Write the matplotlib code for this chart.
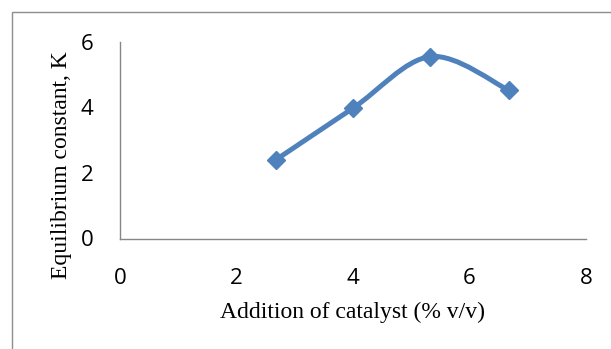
import numpy as np
import matplotlib
matplotlib.use("Agg")
import matplotlib.pyplot as plt
from matplotlib.path import Path
from matplotlib.patches import PathPatch, Rectangle

# catalyst addition (% v/v) vs equilibrium constant K
catalyst = [2.67, 4.0, 5.33, 6.67]
k_values = [2.39, 3.97, 5.54, 4.52]
x_ticks = [0, 2, 4, 6, 8]
y_ticks = [0, 2, 4, 6]

blue = "#4F81BD"
grey = "#868686"

def smooth_path(xs, ys):
    # bezier through the points, like the "smoothed line" option in excel
    p = np.column_stack([xs, ys])
    pts = np.vstack([p[0], p, p[-1]])
    verts = [tuple(p[0])]
    codes = [Path.MOVETO]
    for i in range(1, len(pts) - 2):
        c1 = pts[i] + (pts[i + 1] - pts[i - 1]) / 6
        c2 = pts[i + 1] - (pts[i + 2] - pts[i]) / 6
        verts += [tuple(c1), tuple(c2), tuple(pts[i + 1])]
        codes += [Path.CURVE4] * 3
    return Path(verts, codes)

fig = plt.figure(figsize=(6.11, 3.49), dpi=100)
W, H = 611, 349
ax = fig.add_axes([120 / W, (H - 238.5) / H, (586 - 120) / W, (238.5 - 41.5) / H])

ax.add_patch(PathPatch(smooth_path(catalyst, k_values), facecolor="none",
                       edgecolor=blue, lw=3.6, capstyle="round"))
ax.plot(catalyst, k_values, linestyle="none", marker="D", markersize=9,
        color=blue, zorder=3)

ax.set_xlim(0, 8)
ax.set_ylim(0, 6)
ax.set_xticks(x_ticks)
ax.set_yticks(y_ticks)
ax.tick_params(length=0, labelsize=16)
ax.tick_params(axis="x", pad=21)
ax.tick_params(axis="y", pad=19)
for lab in ax.get_xticklabels() + ax.get_yticklabels():
    lab.set_fontfamily("Open Sans")

for s in ["top", "right"]:
    ax.spines[s].set_visible(False)
for s in ["left", "bottom"]:
    ax.spines[s].set_color(grey)
    ax.spines[s].set_linewidth(1.0)

fig.text(353 / W, 1 - 312 / H, "Addition of catalyst (% v/v)", ha="center",
         va="center", fontsize=17, fontfamily="Liberation Serif")
fig.text(61 / W, 1 - 165 / H, "Equilibrium constant, K", ha="center",
         va="center", rotation=90, fontsize=17, fontfamily="Liberation Serif")

# chart border, runs off the right and bottom edge
fig.patches.append(Rectangle((12 / W, -0.1), 1.5, 1.1 - 12 / H,
                             transform=fig.transFigure, fill=False,
                             edgecolor="#8e8e8e", lw=1.0))

fig.savefig("out.png", dpi=100)
